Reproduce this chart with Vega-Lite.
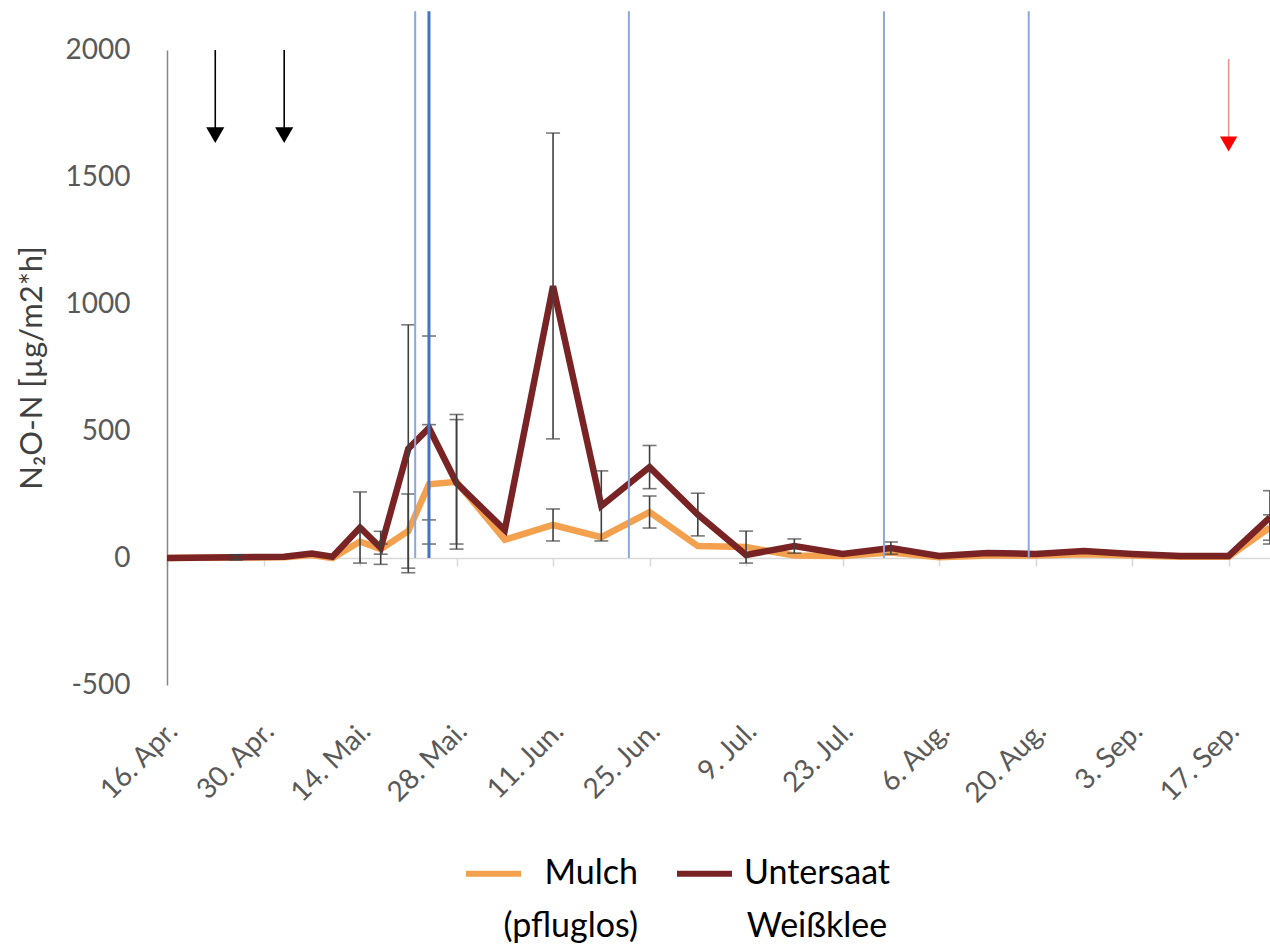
{
  "$schema": "https://vega.github.io/schema/vega-lite/v6.json",
  "width": 1103,
  "height": 635,
  "autosize": "none",
  "padding": {"left": 167, "top": 50, "right": 0, "bottom": 265},
  "background": "white",
  "config": {
    "view": {"stroke": null},
    "font": "Lato",
    "style": {"guide-label": {"lineHeight": 53}}
  },
  "datasets": {
    "messung": [
      {"datum": "2019-04-16", "variante": "Mulch (pfluglos)", "n2o": 0},
      {"datum": "2019-04-26", "variante": "Mulch (pfluglos)", "n2o": 2, "lo": -6, "hi": 10},
      {"datum": "2019-05-03", "variante": "Mulch (pfluglos)", "n2o": 3},
      {"datum": "2019-05-07", "variante": "Mulch (pfluglos)", "n2o": 12},
      {"datum": "2019-05-10", "variante": "Mulch (pfluglos)", "n2o": 0},
      {"datum": "2019-05-14", "variante": "Mulch (pfluglos)", "n2o": 65},
      {"datum": "2019-05-17", "variante": "Mulch (pfluglos)", "n2o": 35, "lo": 15, "hi": 55},
      {"datum": "2019-05-21", "variante": "Mulch (pfluglos)", "n2o": 106, "lo": -40, "hi": 252},
      {"datum": "2019-05-24", "variante": "Mulch (pfluglos)", "n2o": 290, "lo": 55, "hi": 525},
      {"datum": "2019-05-28", "variante": "Mulch (pfluglos)", "n2o": 300, "lo": 55, "hi": 545},
      {"datum": "2019-06-04", "variante": "Mulch (pfluglos)", "n2o": 72},
      {"datum": "2019-06-11", "variante": "Mulch (pfluglos)", "n2o": 130, "lo": 67, "hi": 193},
      {"datum": "2019-06-18", "variante": "Mulch (pfluglos)", "n2o": 82},
      {"datum": "2019-06-25", "variante": "Mulch (pfluglos)", "n2o": 181, "lo": 118, "hi": 244},
      {"datum": "2019-07-02", "variante": "Mulch (pfluglos)", "n2o": 47},
      {"datum": "2019-07-09", "variante": "Mulch (pfluglos)", "n2o": 43, "lo": -20, "hi": 106},
      {"datum": "2019-07-16", "variante": "Mulch (pfluglos)", "n2o": 10},
      {"datum": "2019-07-23", "variante": "Mulch (pfluglos)", "n2o": 8},
      {"datum": "2019-07-30", "variante": "Mulch (pfluglos)", "n2o": 22},
      {"datum": "2019-08-06", "variante": "Mulch (pfluglos)", "n2o": 3},
      {"datum": "2019-08-13", "variante": "Mulch (pfluglos)", "n2o": 10},
      {"datum": "2019-08-20", "variante": "Mulch (pfluglos)", "n2o": 10},
      {"datum": "2019-08-27", "variante": "Mulch (pfluglos)", "n2o": 15},
      {"datum": "2019-09-03", "variante": "Mulch (pfluglos)", "n2o": 10},
      {"datum": "2019-09-10", "variante": "Mulch (pfluglos)", "n2o": 5},
      {"datum": "2019-09-17", "variante": "Mulch (pfluglos)", "n2o": 5},
      {"datum": "2019-09-23", "variante": "Mulch (pfluglos)", "n2o": 120, "lo": 70, "hi": 170},
      {"datum": "2019-04-16", "variante": "Untersaat Weißklee", "n2o": 0},
      {"datum": "2019-04-26", "variante": "Untersaat Weißklee", "n2o": 3, "lo": -7, "hi": 13},
      {"datum": "2019-05-03", "variante": "Untersaat Weißklee", "n2o": 5},
      {"datum": "2019-05-07", "variante": "Untersaat Weißklee", "n2o": 18},
      {"datum": "2019-05-10", "variante": "Untersaat Weißklee", "n2o": 5},
      {"datum": "2019-05-14", "variante": "Untersaat Weißklee", "n2o": 120, "lo": -20, "hi": 260},
      {"datum": "2019-05-17", "variante": "Untersaat Weißklee", "n2o": 40, "lo": -25, "hi": 105},
      {"datum": "2019-05-21", "variante": "Untersaat Weißklee", "n2o": 430, "lo": -58, "hi": 918},
      {"datum": "2019-05-24", "variante": "Untersaat Weißklee", "n2o": 512, "lo": 150, "hi": 874},
      {"datum": "2019-05-28", "variante": "Untersaat Weißklee", "n2o": 295, "lo": 35, "hi": 565},
      {"datum": "2019-06-04", "variante": "Untersaat Weißklee", "n2o": 110},
      {"datum": "2019-06-11", "variante": "Untersaat Weißklee", "n2o": 1070, "lo": 469, "hi": 1673},
      {"datum": "2019-06-18", "variante": "Untersaat Weißklee", "n2o": 205, "lo": 67, "hi": 343},
      {"datum": "2019-06-25", "variante": "Untersaat Weißklee", "n2o": 358, "lo": 273, "hi": 443},
      {"datum": "2019-07-02", "variante": "Untersaat Weißklee", "n2o": 171, "lo": 87, "hi": 255},
      {"datum": "2019-07-09", "variante": "Untersaat Weißklee", "n2o": 12},
      {"datum": "2019-07-16", "variante": "Untersaat Weißklee", "n2o": 47, "lo": 19, "hi": 75},
      {"datum": "2019-07-23", "variante": "Untersaat Weißklee", "n2o": 16},
      {"datum": "2019-07-30", "variante": "Untersaat Weißklee", "n2o": 39, "lo": 15, "hi": 63},
      {"datum": "2019-08-06", "variante": "Untersaat Weißklee", "n2o": 8},
      {"datum": "2019-08-13", "variante": "Untersaat Weißklee", "n2o": 20},
      {"datum": "2019-08-20", "variante": "Untersaat Weißklee", "n2o": 16},
      {"datum": "2019-08-27", "variante": "Untersaat Weißklee", "n2o": 28},
      {"datum": "2019-09-03", "variante": "Untersaat Weißklee", "n2o": 16},
      {"datum": "2019-09-10", "variante": "Untersaat Weißklee", "n2o": 8},
      {"datum": "2019-09-17", "variante": "Untersaat Weißklee", "n2o": 8},
      {"datum": "2019-09-23", "variante": "Untersaat Weißklee", "n2o": 160, "lo": 55, "hi": 265}
    ],
    "ereignis": [
      {"datum": "2019-05-22"},
      {"datum": "2019-06-22"},
      {"datum": "2019-07-29"},
      {"datum": "2019-08-19"}
    ],
    "ereignis_haupt": [
      {"datum": "2019-05-24"}
    ],
    "massnahme": [
      {"datum": "2019-04-23"},
      {"datum": "2019-05-03"}
    ],
    "ernte": [
      {"datum": "2019-09-17"}
    ]
  },
  "resolve": {"axis": {"x": "independent"}},
  "layer": [
    {
      "data": {"name": "messung"},
      "mark": {"type": "line", "strokeWidth": 6.5, "strokeJoin": "miter", "strokeCap": "butt"},
      "encoding": {
        "x": {
          "field": "datum", "type": "temporal",
          "scale": {"type": "utc", "domain": [{"year": 2019, "month": 4, "date": 16, "utc": true}, {"year": 2019, "month": 9, "date": 23, "utc": true}]},
          "axis": {
            "orient": "top", "offset": -508, "title": null, "labels": false, "grid": false,
            "domain": true, "domainColor": "#D9D9D9", "domainWidth": 1.5,
            "ticks": true, "tickColor": "#D9D9D9", "tickWidth": 1.5, "tickSize": -8,
            "values": [
              {"year": 2019, "month": 4, "date": 16, "utc": true},
              {"year": 2019, "month": 4, "date": 30, "utc": true},
              {"year": 2019, "month": 5, "date": 14, "utc": true},
              {"year": 2019, "month": 5, "date": 28, "utc": true},
              {"year": 2019, "month": 6, "date": 11, "utc": true},
              {"year": 2019, "month": 6, "date": 25, "utc": true},
              {"year": 2019, "month": 7, "date": 9, "utc": true},
              {"year": 2019, "month": 7, "date": 23, "utc": true},
              {"year": 2019, "month": 8, "date": 6, "utc": true},
              {"year": 2019, "month": 8, "date": 20, "utc": true},
              {"year": 2019, "month": 9, "date": 3, "utc": true},
              {"year": 2019, "month": 9, "date": 17, "utc": true}
            ]
          }
        },
        "y": {
          "field": "n2o", "type": "quantitative",
          "scale": {"domain": [-500, 2000], "nice": false, "zero": false},
          "axis": {
            "title": "N₂O-N [µg/m2*h]", "titleFontSize": 31, "titleFontWeight": "normal",
            "titleColor": "#404040", "titlePadding": 17, "titleFont": "Lato",
            "values": [-500, 0, 500, 1000, 1500, 2000],
            "labelExpr": "datum.value < 0 ? '-' + abs(datum.value) : '' + datum.value",
            "grid": false, "ticks": false, "domain": true, "domainColor": "#868686", "domainWidth": 1.5,
            "labelFontSize": 28, "labelColor": "#595959", "labelPadding": 37, "labelFont": "Lato"
          }
        },
        "color": {
          "field": "variante", "type": "nominal",
          "scale": {"domain": ["Mulch (pfluglos)", "Untersaat Weißklee"], "range": ["#F4A14F", "#7A2325"]},
          "legend": {
            "orient": "none", "legendX": 296, "legendY": 793, "direction": "horizontal",
            "title": null, "symbolType": "stroke", "symbolSize": 3025, "symbolStrokeWidth": 6,
            "labelFont": "Lato", "labelFontSize": 34, "labelColor": "#000000", "labelLimit": 400,
            "labelOffset": 22, "columnPadding": 27, "labelBaseline": "middle",
            "labelExpr": "datum.label == 'Mulch (pfluglos)' ? ['Mulch', '(pfluglos)'] : ['Untersaat', 'Weißklee']",
            "encode": {
              "labels": {
                "update": {
                  "align": {"signal": "datum.value == 'Mulch (pfluglos)' ? 'right' : 'center'"},
                  "dx": {"signal": "datum.value == 'Mulch (pfluglos)' ? 92 : 60"}
                }
              }
            }
          }
        },
        "order": {"field": "datum"}
      }
    },
    {
      "data": {"name": "messung"},
      "transform": [{"filter": "isValid(datum.lo)"}],
      "mark": {"type": "rule", "color": "#404040", "strokeWidth": 1.6},
      "encoding": {
        "x": {
          "field": "datum", "type": "temporal",
          "axis": {
            "orient": "bottom", "title": null, "grid": false, "domain": false, "ticks": false,
            "labelAngle": -45, "labelAlign": "right", "labelBaseline": "middle",
            "labelPadding": 42, "labelOffset": 6, "labelFontSize": 28, "labelColor": "#595959", "labelFont": "Lato",
            "labelExpr": "utcdate(datum.value) + '. ' + ['Jan.','Feb.','Mär.','Apr.','Mai.','Jun.','Jul.','Aug.','Sep.','Okt.','Nov.','Dez.'][utcmonth(datum.value)]",
            "values": [
              {"year": 2019, "month": 4, "date": 16, "utc": true},
              {"year": 2019, "month": 4, "date": 30, "utc": true},
              {"year": 2019, "month": 5, "date": 14, "utc": true},
              {"year": 2019, "month": 5, "date": 28, "utc": true},
              {"year": 2019, "month": 6, "date": 11, "utc": true},
              {"year": 2019, "month": 6, "date": 25, "utc": true},
              {"year": 2019, "month": 7, "date": 9, "utc": true},
              {"year": 2019, "month": 7, "date": 23, "utc": true},
              {"year": 2019, "month": 8, "date": 6, "utc": true},
              {"year": 2019, "month": 8, "date": 20, "utc": true},
              {"year": 2019, "month": 9, "date": 3, "utc": true},
              {"year": 2019, "month": 9, "date": 17, "utc": true}
            ]
          }
        },
        "y": {"field": "lo", "type": "quantitative"},
        "y2": {"field": "hi"}
      }
    },
    {
      "data": {"name": "messung"},
      "transform": [{"filter": "isValid(datum.lo)"}],
      "mark": {"type": "tick", "orient": "horizontal", "color": "#404040", "thickness": 1.6, "size": 14},
      "encoding": {
        "x": {"field": "datum", "type": "temporal", "axis": null},
        "y": {"field": "lo", "type": "quantitative"}
      }
    },
    {
      "data": {"name": "messung"},
      "transform": [{"filter": "isValid(datum.hi)"}],
      "mark": {"type": "tick", "orient": "horizontal", "color": "#404040", "thickness": 1.6, "size": 14},
      "encoding": {
        "x": {"field": "datum", "type": "temporal", "axis": null},
        "y": {"field": "hi", "type": "quantitative"}
      }
    },
    {
      "data": {"name": "ereignis"},
      "mark": {"type": "rule", "color": "#8CA8D8", "strokeWidth": 2},
      "encoding": {
        "x": {"field": "datum", "type": "temporal", "axis": null},
        "y": {"datum": 0},
        "y2": {"datum": 2153}
      }
    },
    {
      "data": {"name": "ereignis_haupt"},
      "mark": {"type": "rule", "color": "#4472C4", "strokeWidth": 3},
      "encoding": {
        "x": {"field": "datum", "type": "temporal", "axis": null},
        "y": {"datum": 0},
        "y2": {"datum": 2153}
      }
    },
    {
      "data": {"name": "massnahme"},
      "mark": {"type": "rule", "color": "#000000", "strokeWidth": 1.6},
      "encoding": {
        "x": {"field": "datum", "type": "temporal", "axis": null},
        "y": {"datum": 2000},
        "y2": {"datum": 1690}
      }
    },
    {
      "data": {"name": "massnahme"},
      "mark": {"type": "point", "shape": "triangle-down", "filled": true, "color": "#000000", "size": 330, "opacity": 1},
      "encoding": {
        "x": {"field": "datum", "type": "temporal", "axis": null},
        "y": {"datum": 1665}
      }
    },
    {
      "data": {"name": "ernte"},
      "mark": {"type": "rule", "color": "#F28B8B", "strokeWidth": 1.5},
      "encoding": {
        "x": {"field": "datum", "type": "temporal", "axis": null},
        "y": {"datum": 1965},
        "y2": {"datum": 1650}
      }
    },
    {
      "data": {"name": "ernte"},
      "mark": {"type": "point", "shape": "triangle-down", "filled": true, "color": "#FF0000", "size": 300, "opacity": 1},
      "encoding": {
        "x": {"field": "datum", "type": "temporal", "axis": null},
        "y": {"datum": 1630}
      }
    }
  ]
}
